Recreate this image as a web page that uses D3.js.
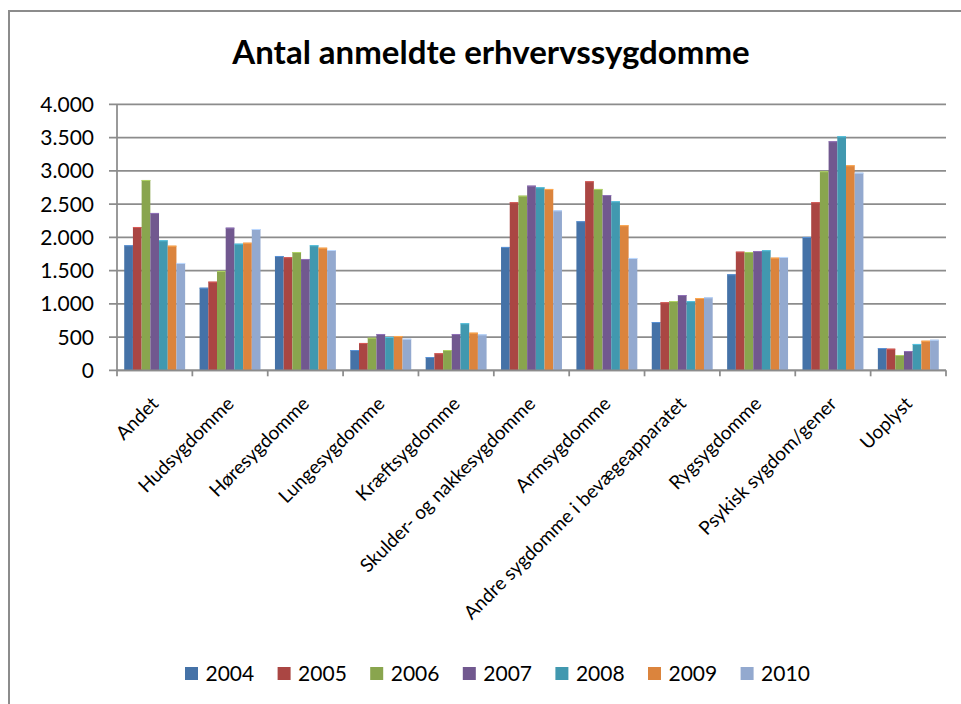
<!DOCTYPE html>
<html>
<head>
<meta charset="utf-8">
<script src="https://cdn.jsdelivr.net/npm/d3@7"></script>
<style>
  body { margin: 0; background: #fff; }
  svg { display: block; font-family: Lato, "Open Sans", sans-serif; }
</style>
</head>
<body>
<script>
// data
var categories = ["Andet", "Hudsygdomme", "Høresygdomme", "Lungesygdomme", "Kræftsygdomme",
  "Skulder- og nakkesygdomme", "Armsygdomme", "Andre sygdomme i bevægeapparatet",
  "Rygsygdomme", "Psykisk sygdom/gener", "Uoplyst"];
var years = ["2004", "2005", "2006", "2007", "2008", "2009", "2010"];
var v2004 = [1880, 1242, 1719, 305, 200, 1855, 2241, 726, 1444, 2005, 335];
var v2005 = [2155, 1333, 1700, 411, 256, 2527, 2842, 1023, 1784, 2527, 325];
var v2006 = [2862, 1494, 1779, 490, 305, 2626, 2727, 1042, 1779, 2993, 230];
var v2007 = [2366, 2145, 1674, 546, 546, 2777, 2636, 1132, 1794, 3444, 290];
var v2008 = [1955, 1904, 1880, 501, 707, 2752, 2541, 1040, 1805, 3519, 396];
var v2009 = [1874, 1919, 1844, 516, 566, 2727, 2181, 1087, 1694, 3083, 445];
var v2010 = [1614, 2125, 1809, 475, 541, 2406, 1689, 1098, 1704, 2972, 460];
var series = [v2004, v2005, v2006, v2007, v2008, v2009, v2010];
var yTicks = [0, 500, 1000, 1500, 2000, 2500, 3000, 3500, 4000];
var colors = ["#4572A7", "#AA4643", "#89A54E", "#71588F", "#4198AF", "#DB843D", "#93A9CF"];

var width = 961;
var height = 704;
var plot = { left: 117, right: 946, top: 104.3, bottom: 370.3 };

var svg = d3.select("body")
  .append("svg")
  .attr("width", width)
  .attr("height", height);

// chart frame
svg.append("rect")
  .attr("x", 9).attr("y", 11)
  .attr("width", 980).attr("height", 720)
  .attr("fill", "none")
  .attr("stroke", "#8c8c8c")
  .attr("stroke-width", 2);

// cut-off glyph above the frame (as in the source)
svg.append("text")
  .attr("x", 28).attr("y", -7)
  .attr("font-size", 24)
  .attr("fill", "#222")
  .text("g");

svg.append("text")
  .attr("x", 491).attr("y", 64)
  .attr("text-anchor", "middle")
  .attr("font-size", 33)
  .attr("font-weight", "bold")
  .attr("fill", "#000")
  .text("Antal anmeldte erhvervssygdomme");

var x = d3.scaleBand().domain(categories).range([plot.left, plot.right]);
var xInner = d3.scaleBand().domain(years).range([0, x.bandwidth()]).paddingOuter(0.83);
var y = d3.scaleLinear().domain([0, 4000]).range([plot.bottom, plot.top]);

var fmt = d3.formatLocale({ decimal: ",", thousands: ".", grouping: [3], currency: ["", ""] }).format(",");

// gridlines
svg.append("g").selectAll("line")
  .data(yTicks)
  .enter()
  .append("line")
  .attr("x1", plot.left - 8)
  .attr("x2", plot.right)
  .attr("y1", function (d) { return y(d); })
  .attr("y2", function (d) { return y(d); })
  .attr("stroke", "#8c8c8c")
  .attr("stroke-width", 1.75);

// y axis line
svg.append("line")
  .attr("x1", plot.left).attr("x2", plot.left)
  .attr("y1", plot.top).attr("y2", plot.bottom)
  .attr("stroke", "#8c8c8c").attr("stroke-width", 1.75);

svg.append("g").selectAll("text")
  .data(yTicks)
  .enter()
  .append("text")
  .attr("x", 94)
  .attr("y", function (d) { return y(d); })
  .attr("dy", "0.36em")
  .attr("text-anchor", "end")
  .attr("font-size", 21)
  .attr("fill", "#000")
  .text(function (d) { return fmt(d); });

// bars
var groups = svg.append("g").selectAll("g")
  .data(series)
  .enter()
  .append("g")
  .attr("fill", function (d, i) { return colors[i]; });

groups.each(function (vals, si) {
  var g = d3.select(this);
  g.selectAll("rect")
    .data(vals)
    .enter()
    .append("rect")
    .attr("x", function (d, i) { return x(categories[i]) + xInner(years[si]); })
    .attr("y", function (d) { return y(d); })
    .attr("width", xInner.bandwidth())
    .attr("height", function (d) { return plot.bottom - y(d); });
  // light top edge
  g.selectAll("line")
    .data(vals)
    .enter()
    .append("line")
    .attr("x1", function (d, i) { return x(categories[i]) + xInner(years[si]); })
    .attr("x2", function (d, i) { return x(categories[i]) + xInner(years[si]) + xInner.bandwidth(); })
    .attr("y1", function (d) { return y(d) + 0.5; })
    .attr("y2", function (d) { return y(d) + 0.5; })
    .attr("stroke", d3.color(colors[si]).brighter(0.7))
    .attr("stroke-width", 1);
});

// x axis
svg.append("line")
  .attr("x1", plot.left).attr("x2", plot.right)
  .attr("y1", plot.bottom).attr("y2", plot.bottom)
  .attr("stroke", "#8c8c8c").attr("stroke-width", 1.75);

var bounds = categories.map(function (c) { return x(c); }).concat([plot.right]);
svg.append("g").selectAll("line")
  .data(bounds)
  .enter()
  .append("line")
  .attr("x1", function (d) { return d; })
  .attr("x2", function (d) { return d; })
  .attr("y1", plot.bottom)
  .attr("y2", plot.bottom + 6)
  .attr("stroke", "#8c8c8c").attr("stroke-width", 1.75);

svg.append("g").selectAll("text")
  .data(categories)
  .enter()
  .append("text")
  .attr("transform", function (d) {
    return "translate(" + (x(d) + x.bandwidth() / 2 + 5) + "," + 405 + ") rotate(-45)";
  })
  .attr("text-anchor", "end")
  .attr("font-size", 19)
  .attr("fill", "#000")
  .text(function (d) { return d; });

// legend
var legend = svg.append("g").selectAll("g")
  .data(years)
  .enter()
  .append("g")
  .attr("transform", function (d, i) { return "translate(" + (185 + i * 92.6) + ",667)"; });

legend.append("rect")
  .attr("width", 13).attr("height", 13)
  .attr("fill", function (d, i) { return colors[i]; });

legend.append("text")
  .attr("x", 20.5).attr("y", 14)
  .attr("font-size", 21)
  .attr("fill", "#000")
  .text(function (d) { return d; });
</script>
</body>
</html>
